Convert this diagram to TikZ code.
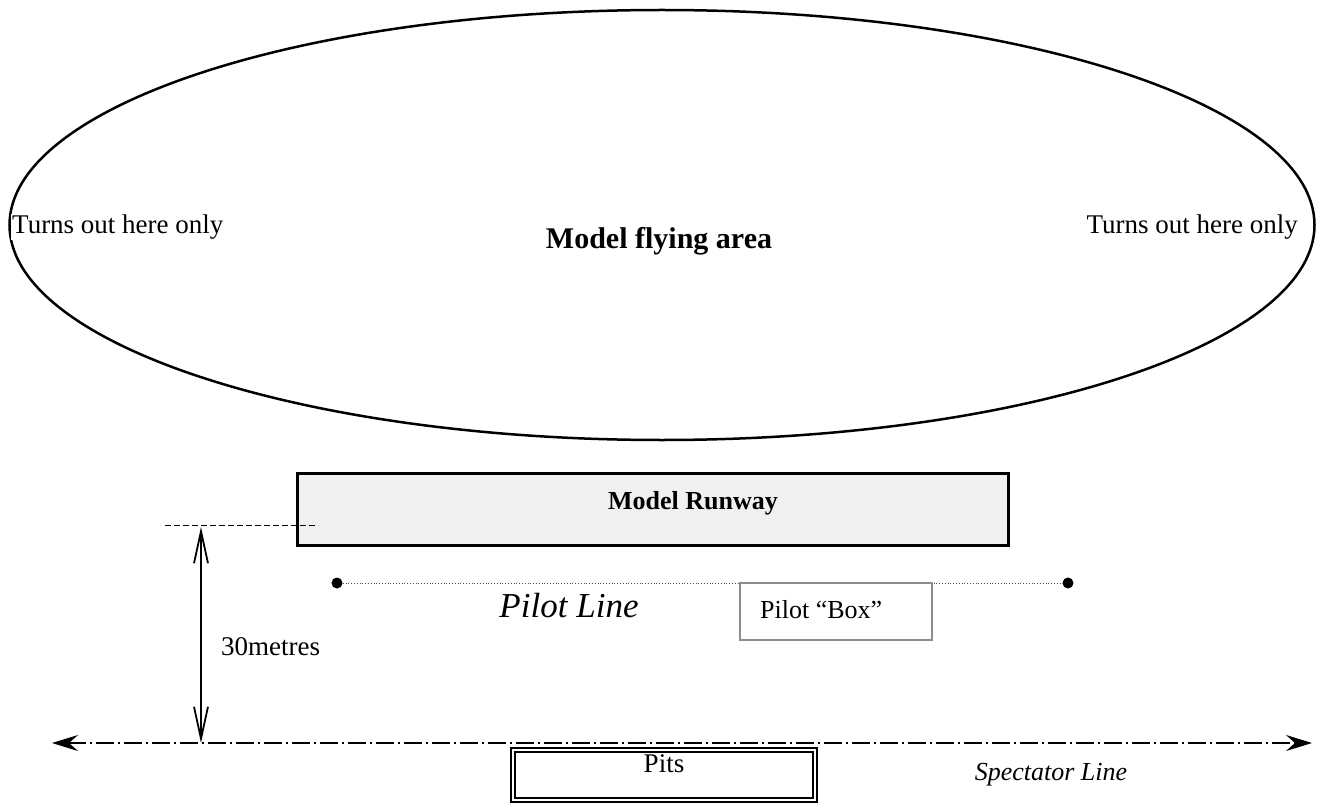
\documentclass[tikz,border=0pt]{standalone}
\usepackage{fontspec}
\setmainfont{Liberation Serif}
\usetikzlibrary{arrows.meta,shapes.geometric}
\begin{document}
\begin{tikzpicture}[x=1pt,y=-1pt,
  lbl/.style={inner sep=0pt,font=\fontsize{27}{29}\selectfont},
  lblb/.style={inner sep=0pt,font=\fontsize{26}{28}\selectfont\bfseries},
  lbli/.style={inner sep=0pt,font=\fontsize{26}{30}\selectfont\itshape},
  dashdot/.style={dash pattern=on 18pt off 4pt on 2pt off 4pt}]
\useasboundingbox (0,0) rectangle (1325,805);

% flying area
\node[draw,ellipse,line width=2.5pt,minimum width=1305,minimum height=430,inner sep=0pt] (area) at (662,225) {};
\node[lblb,font=\fontsize{30}{32}\selectfont\bfseries] (areatxt) at (659,241) {Model flying area};
\node[lbl,anchor=west,fill=white,inner sep=1pt] (turnl) at (11,227) {Turns out here only};
\node[lbl,anchor=east,fill=white,inner sep=1pt] (turnr) at (1299,227) {Turns out here only};

% runway
\node[draw,line width=3pt,fill=black!6,minimum width=711,minimum height=72,inner sep=0pt] (runway) at (652.5,509) {};
\node[lblb] at (693,503) {Model Runway};
\coordinate (dl) at (165,525);
\coordinate (dr) at (318,525);
\draw[line width=1pt,dash pattern=on 6pt off 3pt] (dl) -- (dr);

% pilot line
\node[circle,fill=black,inner sep=0pt,minimum size=11pt] (pl) at (337,583) {};
\node[circle,fill=black,inner sep=0pt,minimum size=11pt] (pr) at (1068,583) {};
\draw[dotted,line width=0.8pt,black!70] (pl) -- (pr);
\node[lbli,font=\fontsize{35}{38}\selectfont\itshape] (pilot) at (569,606) {Pilot Line};
\node[draw=black!45,fill=white,line width=1.8pt,minimum width=192,minimum height=57,inner sep=0pt] (pbox) at (836,611.5) {};
\node[lbl,anchor=west,font=\fontsize{26}{28}\selectfont] at (760,610) {Pilot “Box”};

% spectator line
\coordinate (sl) at (52,743);
\coordinate (sr) at (1312,743);
\draw[dashdot,line width=1.8pt,{Stealth[length=26pt,width=16pt,inset=9pt]}-{Stealth[length=26pt,width=16pt,inset=9pt]}] (sl) -- (sr);

% 30 m distance
\coordinate (d1) at (201,527);
\coordinate (d2) at (201,743);
\draw[line width=1.8pt,{Straight Barb[length=32pt,width=14pt,line width=1.8pt]}-{Straight Barb[length=32pt,width=14pt,line width=1.8pt]}] (d1) -- (d2);
\node[lbl,anchor=west] (dist) at (221,647) {30metres};

% pits
\node[draw,double,double distance=2.5pt,line width=1.5pt,fill=white,minimum width=302,minimum height=50,inner sep=0pt] (pits) at (664,775) {};
\node[lbl] at (664,764) {Pits};
\node[lbli] (spect) at (1051,775) {Spectator Line};
\end{tikzpicture}
\end{document}
